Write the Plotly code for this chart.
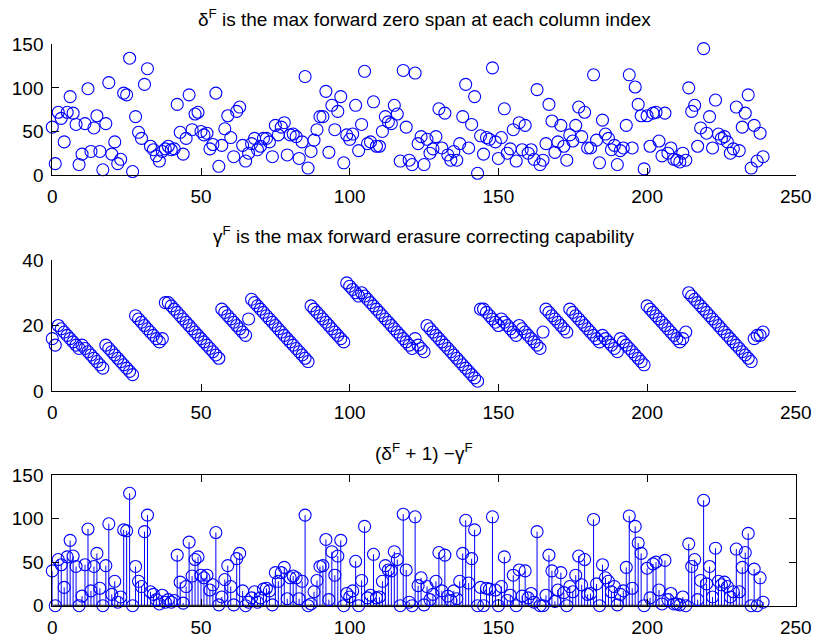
import plotly.graph_objects as go

col_index = list(range(240))

delta_F = [55, 13, 72, 65, 38, 72, 90, 71, 58, 12,
           24, 59, 99, 27, 54, 68, 27, 6, 59, 106,
           24, 38, 13, 18, 94, 92, 134, 4, 67, 49,
           42, 104, 122, 33, 29, 22, 16, 27, 30, 33,
           29, 30, 81, 49, 24, 42, 92, 52, 70, 72,
           50, 46, 48, 30, 35, 94, 10, 34, 53, 68,
           43, 21, 73, 78, 34, 16, 25, 36, 42, 29,
           33, 42, 42, 38, 21, 57, 46, 55, 60, 23,
           46, 47, 44, 19, 38, 113, 8, 27, 40, 52,
           67, 67, 96, 26, 80, 52, 73, 90, 14, 46,
           41, 47, 80, 28, 58, 119, 36, 38, 84, 33,
           33, 50, 67, 61, 59, 80, 70, 16, 120, 55,
           17, 12, 117, 36, 44, 12, 41, 25, 30, 44,
           76, 31, 71, 23, 17, 27, 17, 36, 67, 104,
           31, 58, 90, 2, 45, 24, 43, 41, 123, 38,
           19, 43, 76, 25, 30, 52, 16, 60, 29, 57,
           25, 29, 18, 98, 12, 17, 36, 81, 62, 26,
           38, 57, 33, 17, 46, 39, 57, 78, 44, 72,
           31, 31, 115, 40, 14, 63, 47, 42, 29, 34,
           12, 28, 31, 57, 115, 31, 101, 81, 68, 7,
           68, 33, 71, 72, 39, 22, 71, 25, 31, 18,
           17, 15, 25, 17, 100, 73, 80, 33, 54, 145,
           48, 67, 31, 86, 47, 42, 44, 38, 25, 30,
           78, 28, 55, 71, 92, 8, 57, 16, 48, 21]

gamma_F = [16, 14, 20, 19, 18, 17, 16, 15, 14, 13,
           14, 13, 12, 11, 10, 9, 8, 7, 14, 13,
           12, 11, 10, 9, 8, 7, 6, 5, 23, 22,
           21, 20, 19, 18, 17, 16, 15, 16, 27, 27,
           26, 25, 24, 23, 22, 21, 20, 19, 18, 17,
           16, 15, 14, 13, 12, 11, 10, 25, 24, 23,
           22, 21, 20, 19, 18, 17, 22, 28, 27, 26,
           25, 24, 23, 22, 21, 20, 19, 18, 17, 16,
           15, 14, 13, 12, 11, 10, 9, 26, 25, 24,
           23, 22, 21, 20, 19, 18, 17, 16, 15, 33,
           32, 31, 30, 29, 30, 29, 28, 27, 26, 25,
           24, 23, 22, 21, 20, 19, 18, 17, 16, 15,
           14, 13, 16, 14, 13, 12, 20, 19, 18, 17,
           16, 15, 14, 13, 12, 11, 10, 9, 8, 7,
           6, 5, 4, 3, 25, 25, 24, 23, 22, 21,
           20, 22, 21, 20, 19, 18, 17, 20, 19, 18,
           17, 16, 15, 14, 13, 18, 25, 24, 23, 22,
           21, 20, 19, 18, 25, 24, 23, 22, 21, 20,
           19, 18, 17, 16, 15, 17, 16, 15, 14, 13,
           12, 16, 15, 14, 13, 12, 11, 10, 9, 8,
           26, 25, 24, 23, 22, 21, 20, 19, 18, 17,
           16, 15, 16, 18, 30, 29, 28, 27, 26, 25,
           24, 23, 22, 21, 20, 19, 18, 17, 16, 15,
           14, 13, 12, 11, 10, 9, 16, 17, 17, 18]

# (delta + 1) - gamma
diff_F = [d + 1 - g for d, g in zip(delta_F, gamma_F)]

x_ticks = [0, 50, 100, 150, 200, 250]
BLUE = "#0000ff"
FONT = "Liberation Sans"
W, H = 817, 640

fig = go.Figure()

marker = dict(symbol="circle-open", size=12, color=BLUE, line=dict(width=1.1, color=BLUE))

fig.add_trace(go.Scatter(x=col_index, y=delta_F, mode="markers", marker=marker,
                         xaxis="x", yaxis="y", showlegend=False, cliponaxis=False))
fig.add_trace(go.Scatter(x=col_index, y=gamma_F, mode="markers", marker=marker,
                         xaxis="x2", yaxis="y2", showlegend=False, cliponaxis=False))

# stems
sx, sy = [], []
for xi, v in zip(col_index, diff_F):
    sx += [xi, xi, None]
    sy += [0, v, None]
fig.add_trace(go.Scatter(x=sx, y=sy, mode="lines", line=dict(color=BLUE, width=1),
                         xaxis="x3", yaxis="y3", showlegend=False, hoverinfo="skip"))
# baseline
fig.add_trace(go.Scatter(x=[col_index[0], col_index[-1]], y=[0, 0], mode="lines",
                         line=dict(color="black", width=2), xaxis="x3", yaxis="y3",
                         showlegend=False, hoverinfo="skip"))
fig.add_trace(go.Scatter(x=col_index, y=diff_F, mode="markers", marker=marker,
                         xaxis="x3", yaxis="y3", showlegend=False, cliponaxis=False))

x0p, x1p = 52.3 / W, 795.8 / W

def ydom(top_px, bot_px):
    return [1 - bot_px / H, 1 - top_px / H]

common_x = dict(range=[0, 250], tickvals=x_ticks, ticks="inside", ticklen=7,
                showgrid=False, zeroline=False, showline=True, linecolor="black",
                linewidth=1, tickcolor="black", domain=[x0p, x1p], automargin=False,
                ticklabelstandoff=4,
                tickfont=dict(family=FONT, size=19, color="black"))
common_y = dict(ticks="inside", ticklen=7, showgrid=False, zeroline=False,
                showline=True, linecolor="black", linewidth=1, tickcolor="black",
                automargin=False, ticklabelstandoff=4,
                tickfont=dict(family=FONT, size=19, color="black"))

fig.update_layout(
    width=W, height=H, autosize=False,
    margin=dict(l=0, r=0, t=0, b=0, pad=0, autoexpand=False),
    paper_bgcolor="white", plot_bgcolor="white",
    xaxis=dict(common_x, anchor="y"),
    yaxis=dict(common_y, range=[0, 150], tickvals=[0, 50, 100, 150], domain=ydom(44.3, 175), anchor="x"),
    xaxis2=dict(common_x, anchor="y2"),
    yaxis2=dict(common_y, range=[0, 40], tickvals=[0, 20, 40], domain=ydom(260, 391), anchor="x2"),
    xaxis3=dict(common_x, anchor="y3", mirror="ticks"),
    yaxis3=dict(common_y, range=[0, 150], tickvals=[0, 50, 100, 150], domain=ydom(475, 605.7),
                anchor="x3", mirror="ticks"),
)

xc = (x0p + x1p) / 2
titles = [
    ("δ<sup>F</sup> is the max forward zero span at each column index", 18),
    ("γ<sup>F</sup> is the max forward erasure correcting capability", 235),
    ("(δ<sup>F</sup> + 1) −γ<sup>F</sup>", 452),
]
for txt, ypx in titles:
    fig.add_annotation(text=txt, x=xc, y=1 - ypx / H, xref="paper", yref="paper",
                       xanchor="center", yanchor="middle", showarrow=False,
                       font=dict(family=FONT, size=19, color="black"))

fig.write_html("out.html", config={"responsive": False})
